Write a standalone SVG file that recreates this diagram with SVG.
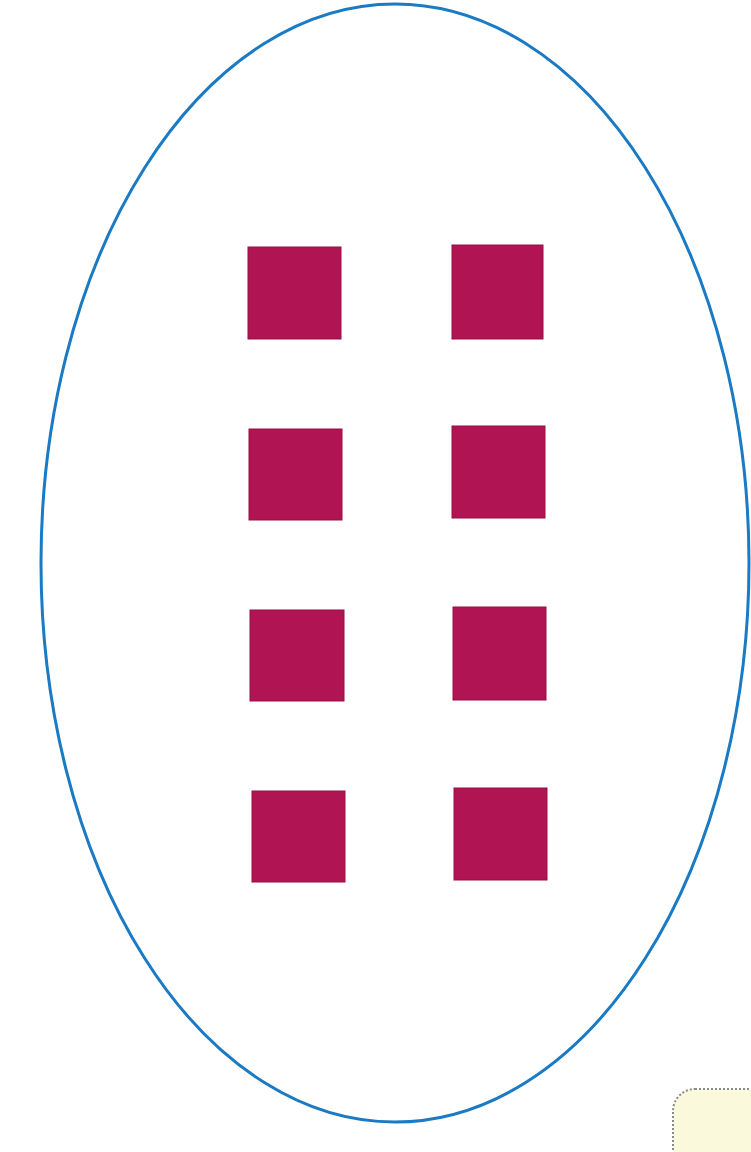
<svg xmlns="http://www.w3.org/2000/svg" width="751" height="1152" viewBox="0 0 751 1152">
<style>
.sq{fill:#b01452;stroke:#9a0f45;stroke-width:1}
.oval{fill:none;stroke:#1a7ac4;stroke-width:3}
</style>
<rect width="751" height="1152" fill="#ffffff"/>
<g id="oval"><ellipse class="oval" cx="395" cy="563" rx="354" ry="559"/></g>
<g id="sq-r1-left"><rect class="sq" x="248" y="247" width="93" height="92"/></g>
<g id="sq-r1-right"><rect class="sq" x="452" y="245" width="91" height="94"/></g>
<g id="sq-r2-left"><rect class="sq" x="249" y="429" width="93" height="91"/></g>
<g id="sq-r2-right"><rect class="sq" x="452" y="426" width="93" height="92"/></g>
<g id="sq-r3-left"><rect class="sq" x="250" y="610" width="94" height="91"/></g>
<g id="sq-r3-right"><rect class="sq" x="453" y="607" width="93" height="93"/></g>
<g id="sq-r4-left"><rect class="sq" x="252" y="791" width="93" height="91"/></g>
<g id="sq-r4-right"><rect class="sq" x="454" y="788" width="93" height="92"/></g>
<g id="corner-box"><rect x="673" y="1089" width="120" height="100" rx="22" fill="#fbf9dc" stroke="#8a8a8a" stroke-width="2" stroke-dasharray="2 2"/></g>
<g id="connectors"></g>
</svg>
